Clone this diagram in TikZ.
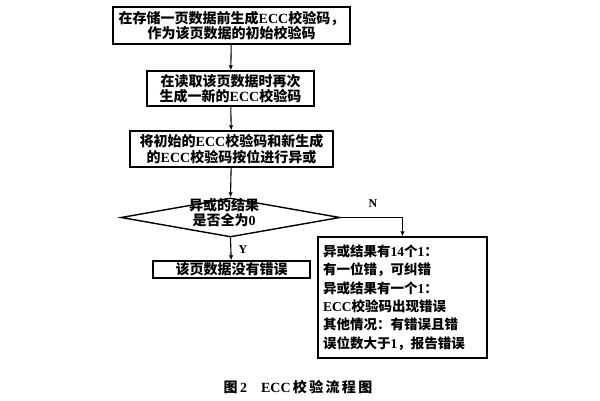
\documentclass[tikz,border=0pt]{standalone}
\usepackage{fontspec}
\setmainfont{Noto Sans CJK SC}
\newfontfamily\lat{Liberation Serif}
\usetikzlibrary{shapes.geometric,arrows.meta}
\newcommand{\E}{{\lat\bfseries ECC}}
\begin{document}
\begin{tikzpicture}[x=1pt,y=-1pt,
  every node/.style={font=\fontsize{14}{15.5}\selectfont\bfseries},
  box/.style={draw,line width=1.4pt,inner sep=0pt,align=center},
  conn/.style={line width=1.1pt,-{Latex[length=5pt,width=4.5pt]}},
  lbl/.style={font=\fontsize{12}{13}\lat\bfseries}]
\useasboundingbox (0,0) rectangle (600,400);
\node[box,minimum width=237pt,minimum height=37pt] (b1) at (231.5,25.5)
  {在存储一页数据前生成\E 校验码，\\作为该页数据的初始校验码};
\node[box,minimum width=167pt,minimum height=35pt] (b2) at (230.5,88.5)
  {在读取该页数据时再次\\生成一新的\E 校验码};
\node[box,minimum width=203pt,minimum height=36pt] (b3) at (231.5,149)
  {将初始的\E 校验码和新生成\\的\E 校验码按位进行异或};
\node[diamond,draw,line width=1.4pt,inner sep=0pt,aspect=5.6,
  minimum width=219pt,minimum height=39pt] (d) at (230.5,217.5) {};
\node[align=center] (dt) at (224,212.5) {异或的结果\\是否全为{\lat\bfseries 0}};
\node[box,minimum width=157pt,minimum height=17pt] (b5) at (231.5,269.5)
  {该页数据没有错误};
\node[box,text width=159pt,inner xsep=5pt,minimum height=121pt,align=left,
  font=\fontsize{13.5}{18.4}\selectfont\bfseries] (b4) at (402.5,297.5)
  {异或结果有{\lat\bfseries 14}个{\lat\bfseries 1}：\\有一位错，可纠错\\异或结果有一个{\lat\bfseries 1}：\\\E 校验码出现错误\\其他情况：有错误且错\\误位数大于{\lat\bfseries 1}，报告错误};
\draw[conn] (b1) -- (b2);
\draw[conn] (b2) -- (b3);
\draw[conn] (b3) -- (d.north);
\draw[conn] (d.south) -- (b5);
\draw[conn] (d.east) -| (b4.north);
\node[lbl] (n) at (373,204) {N};
\node[lbl] (y) at (243,250) {Y};
\node (cap) at (298,387) {图\,{\lat\bfseries 2}\quad {\lat\bfseries ECC}\,校\,验\,流\,程\,图};
\end{tikzpicture}
\end{document}
